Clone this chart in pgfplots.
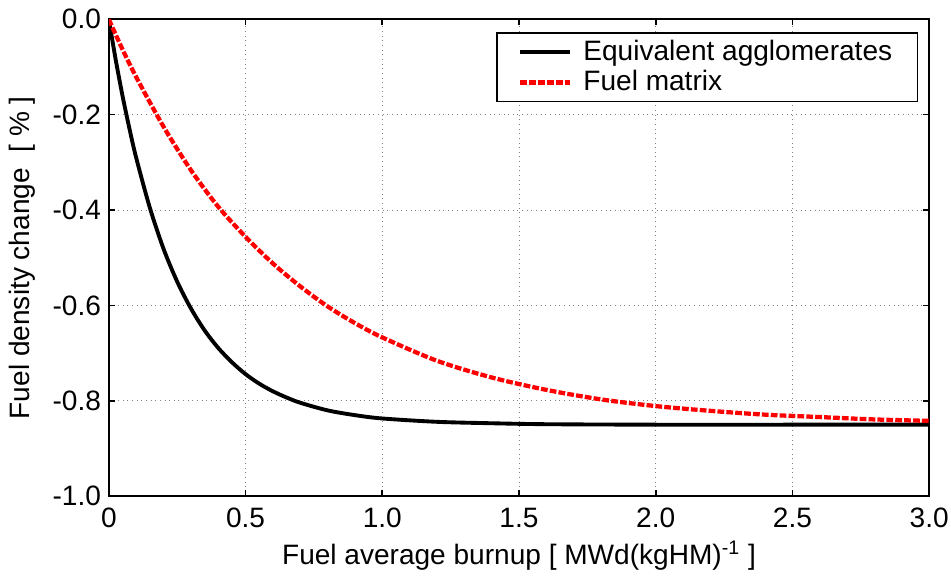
\documentclass[border=0pt]{standalone}
\usepackage{pgfplots}
\pgfplotsset{compat=1.18}
\usepackage{fontspec}
\setmainfont{Liberation Sans}
\begin{document}
\fontsize{14.5}{17}\selectfont
\begin{tikzpicture}
\begin{axis}[
  scale only axis,
  width=424pt, height=246.5pt,
  xmin=0, xmax=3, ymin=-1, ymax=0,
  xtick={0,0.5,1,1.5,2,2.5,3},
  xticklabels={0,0.5,1.0,1.5,2.0,2.5,3.0},
  ytick={-1,-0.8,-0.6,-0.4,-0.2,0},
  yticklabels={-1.0,-0.8,-0.6,-0.4,-0.2,0.0},
  tick align=inside,
  major tick length=3pt,
  tick style={black, line width=0.8pt},
  axis line style={line width=1pt},
  grid=major,
  grid style={dotted, gray, line width=0.5pt},
  xlabel={Fuel average burnup [ MWd(kgHM)\textsuperscript{-1} ]},
  ylabel={Fuel density change\ \ [ \% ]},
  xticklabel style={yshift=-1pt, inner xsep=1.2pt},
  yticklabel style={xshift=1pt},
  xlabel style={yshift=3pt},
  ylabel style={yshift=-1pt},
  ticklabel style={font=\fontsize{14.5}{17}\selectfont},
  label style={font=\fontsize{14.5}{17}\selectfont},
  legend style={at={(1,1)}, anchor=north east, xshift=-5.7pt, yshift=-6.7pt,
    draw=black, line width=0.8pt, font=\fontsize{14.5}{17}\selectfont,
    inner xsep=11pt, inner ysep=1.5pt, row sep=-1pt},
  legend cell align=left,
  legend image code/.code={\draw[#1] (0cm,0cm) -- (0.9cm,0cm);},
]
\addplot[black, line width=2pt, smooth] coordinates {
(0,0) (0.025,-0.084) (0.05,-0.160) (0.075,-0.228) (0.1,-0.290)
(0.15,-0.395) (0.2,-0.481) (0.25,-0.550) (0.3,-0.606) (0.35,-0.652) (0.4,-0.689)
(0.45,-0.719) (0.5,-0.744) (0.55,-0.764) (0.6,-0.780) (0.65,-0.793) (0.7,-0.804) (0.8,-0.820) (0.9,-0.830) (1.0,-0.837)
(1.2,-0.844) (1.4,-0.847) (1.6,-0.849) (2.0,-0.850) (2.5,-0.850) (3.0,-0.850)};
\addlegendentry{\hspace{4pt}Equivalent agglomerates}
\addplot[red, line width=2.2pt, dash pattern=on 3.5pt off 1.1pt, smooth] coordinates {
(0,0) (0.05,-0.063) (0.1,-0.121) (0.2,-0.225) (0.3,-0.316) (0.4,-0.393)
(0.5,-0.456) (0.6,-0.512) (0.7,-0.560) (0.8,-0.602) (0.9,-0.637) (1.0,-0.667)
(1.2,-0.716) (1.4,-0.751) (1.6,-0.777) (1.8,-0.797) (2.0,-0.811) (2.2,-0.821)
(2.4,-0.829) (2.6,-0.834) (2.8,-0.839) (3.0,-0.842)};
\addlegendentry{\hspace{4pt}Fuel matrix}
\end{axis}
\end{tikzpicture}
\end{document}
